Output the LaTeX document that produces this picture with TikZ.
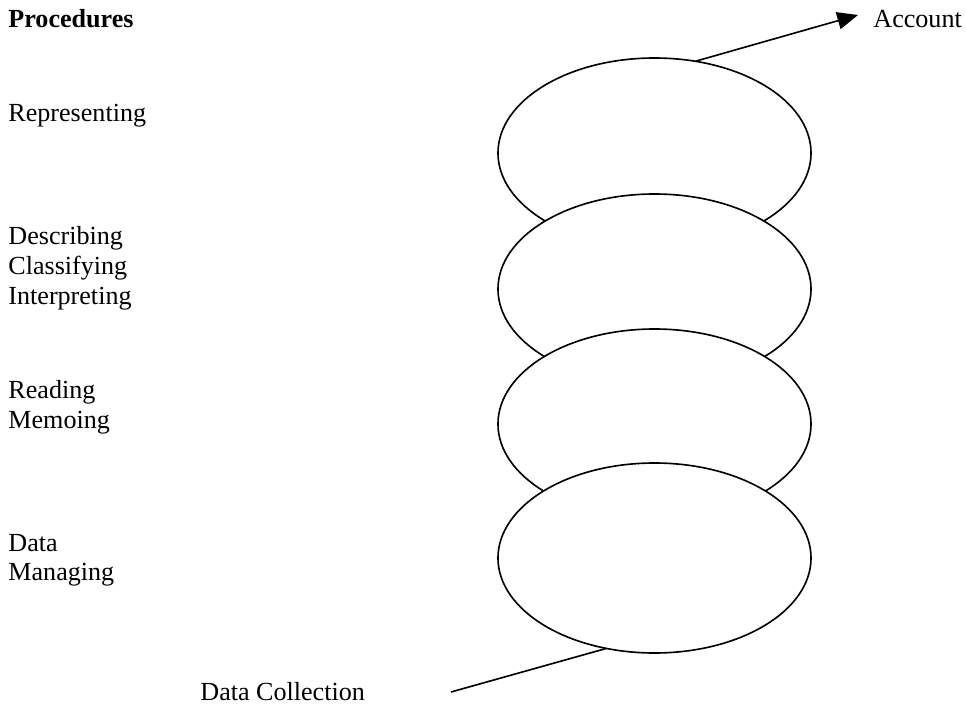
\documentclass[tikz,border=0pt]{standalone}
\usepackage{fontspec}
\setmainfont{Liberation Serif}
\usetikzlibrary{shapes.geometric,arrows.meta}
\begin{document}
\begin{tikzpicture}[x=0.46pt,y=-0.46pt,
  lbl/.style={anchor=base west,inner sep=0pt,font=\fontsize{12}{13.8}\selectfont},
  stage/.style={ellipse,draw,fill=white,line width=0.75pt,inner sep=0pt,outer sep=0pt,
    minimum width=144pt,minimum height=87.4pt},
  link/.style={line width=0.75pt},
  tip/.style={-{Triangle[length=9.5pt,width=8pt]}}]
\useasboundingbox (0,0) rectangle (966,707);

% left column: procedures
\node[lbl,font=\fontsize{12}{13.8}\selectfont\bfseries] (head) at (8,27) {Procedures};
\node[lbl] (rep) at (8,121) {Representing};
\node[lbl] (desc) at (8,244) {Describing};
\node[lbl] (clas) at (8,274) {Classifying};
\node[lbl] (interp) at (8,304) {Interpreting};
\node[lbl] (read) at (8,398) {Reading};
\node[lbl] (memo) at (8,428) {Memoing};
\node[lbl] (data) at (8,551) {Data};
\node[lbl] (manage) at (8,580) {Managing};

% the spiral of stacked loops, top to bottom so each covers the one above
\node[stage] (e1) at (654.5,153) {};
\node[stage] (e2) at (654.5,289) {};
\node[stage] (e3) at (654.5,424) {};
\node[stage] (e4) at (654.5,558) {};

% entry and exit of the spiral
\node[lbl] (acc) at (873,27) {Account};
\coordinate (acctip) at (858,15);
\draw[link,tip] (e1.66) -- (acctip);

\node[lbl] (coll) at (200,700) {Data Collection};
\coordinate (collend) at (451,692);
\draw[link] (e4.242) -- (collend);
\end{tikzpicture}
\end{document}
